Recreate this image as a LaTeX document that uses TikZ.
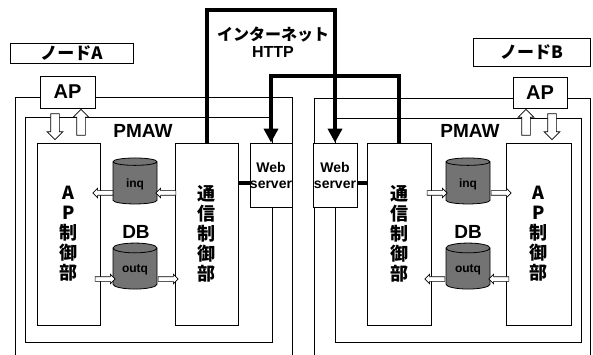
\documentclass[tikz,border=0pt]{standalone}
\usepackage{fontspec}
\setmainfont{Liberation Sans}
\newfontfamily\jp{Noto Sans CJK JP}
\usetikzlibrary{shapes.geometric,shapes.arrows,arrows.meta}

\begin{document}
\begin{tikzpicture}[x=1pt,y=-1pt,
    box/.style={draw, fill=white, line width=0.8pt, inner sep=0pt},
    frame/.style={line width=0.8pt},
    vtext/.style={align=center, font=\jp\bfseries\fontsize{18}{20}\selectfont},
    title/.style={font=\bfseries\fontsize{19}{19}\selectfont},
    blockarrow/.style={single arrow, draw, fill=white, line width=0.7pt, inner sep=4pt,
        minimum height=26pt, single arrow head extend=3.5pt, single arrow head indent=0pt},
    smallarrow/.style={single arrow, draw, fill=white, line width=0.6pt, inner sep=2pt,
        minimum height=20pt, single arrow head extend=2.5pt, single arrow head indent=0pt},
    queue/.style={cylinder, shape border rotate=90, draw, fill=black!55, aspect=0.3,
        minimum width=44pt, minimum height=46pt, line width=0.8pt,
        font=\bfseries\fontsize{12}{12}\selectfont},
    net/.style={line width=4pt, -{Triangle[width=14pt,length=14pt]}},
    link/.style={line width=4pt}]
    \useasboundingbox (0,0) rectangle (593,355);

    % node A
    \node[box, minimum width=123pt, minimum height=20pt, font=\jp\bfseries\fontsize{17}{17}\selectfont] (labelA) at (71.5,53) {ノードA};
    \draw[frame] (15,355) -- (15,97) -- (292,97) -- (292,355);
    \node[box, minimum width=55pt, minimum height=32pt, font=\bfseries\fontsize{20}{20}\selectfont] (apA) at (67.5,92) {AP};
    \node[box, minimum width=247pt, minimum height=225pt] (pmawA) at (148.5,229.5) {};
    \node[title] (pmawLabelA) at (143,131) {PMAW};
    \node[box, vtext, minimum width=63pt, minimum height=182pt] (apctlA) at (68.5,234) {A\\P\\制\\御\\部};
    \node[box, vtext, minimum width=63pt, minimum height=182pt] (comA) at (206.5,234) {通\\信\\制\\御\\部};
    \node[box, align=center, font=\bfseries\fontsize{14}{16}\selectfont, minimum width=42pt, minimum height=64pt] (webA) at (271,175) {Web\\server};
    \node[queue] (inqA) at (135,184) {inq};
    \node[queue] (outqA) at (135,270) {outq};
    \node[title] (dbA) at (136,232) {DB};
    \node[blockarrow, shape border rotate=270] (apDownA) at (55,124.5) {};
    \node[blockarrow, shape border rotate=90] (apUpA) at (81,124.5) {};
    \node[smallarrow, shape border rotate=180] (inqOutA) at (104,193) {};
    \node[smallarrow, shape border rotate=180] (inqInA) at (167,193) {};
    \node[smallarrow] (outqInA) at (104,279) {};
    \node[smallarrow] (outqOutA) at (167,279) {};
    \draw[link] (webA.west |- 0,183) -- (comA.east |- 0,183);

    % node B
    \node[box, minimum width=117pt, minimum height=28pt, font=\jp\bfseries\fontsize{17}{17}\selectfont] (labelB) at (531.5,52) {ノードB};
    \draw[frame] (314,355) -- (314,98) -- (590,98) -- (590,355);
    \node[box, minimum width=54pt, minimum height=31pt, font=\bfseries\fontsize{20}{20}\selectfont] (apB) at (540,92.5) {AP};
    \node[box, minimum width=246pt, minimum height=224pt] (pmawB) at (458,230) {};
    \node[title] (pmawLabelB) at (470,131) {PMAW};
    \node[box, vtext, minimum width=64pt, minimum height=182pt] (comB) at (399,234) {通\\信\\制\\御\\部};
    \node[box, vtext, minimum width=65pt, minimum height=182pt] (apctlB) at (538.5,234) {A\\P\\制\\御\\部};
    \node[box, align=center, font=\bfseries\fontsize{14}{16}\selectfont, minimum width=44pt, minimum height=64pt] (webB) at (335,175) {Web\\server};
    \node[queue] (inqB) at (468,184) {inq};
    \node[queue] (outqB) at (468,270) {outq};
    \node[title] (dbB) at (468,232) {DB};
    \node[blockarrow, shape border rotate=90] (apUpB) at (526,124.5) {};
    \node[blockarrow, shape border rotate=270] (apDownB) at (552,124.5) {};
    \node[smallarrow] (inqInB) at (436,193) {};
    \node[smallarrow] (inqOutB) at (500,193) {};
    \node[smallarrow, shape border rotate=180] (outqOutB) at (436,279) {};
    \node[smallarrow, shape border rotate=180] (outqInB) at (500,279) {};
    \draw[link] (webB.east |- 0,183) -- (comB.west |- 0,183);

    % internet
    \coordinate (netTop) at (271,10);
    \coordinate (netMid) at (336,76);
    \draw[net] (comA.north) |- (netTop) -| (webB.north);
    \draw[net] (comB.north) |- (netMid) -| (webA.north);
    \node[align=center, font=\bfseries\fontsize{16}{17}\selectfont] (netLabel) at (273,42) {{\jp インターネット}\\HTTP};
\end{tikzpicture}
\end{document}
